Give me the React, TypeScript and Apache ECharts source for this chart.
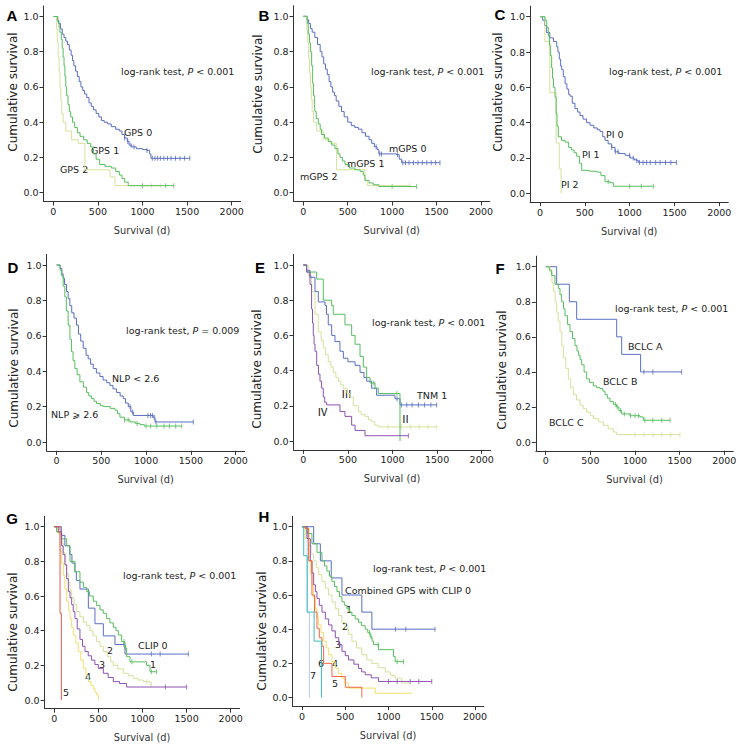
import React, { useEffect, useRef } from "react";
import * as echarts from "echarts";

// ---------- tick values ----------
const dayTicks = [0, 500, 1000, 1500, 2000];
const survTicks = [0, 0.2, 0.4, 0.6, 0.8, 1.0];

// ---------- Panel A: GPS ----------
const gps0 = [[0,1],[45,0.98],[60,0.96],[80,0.93],[100,0.9],[120,0.88],[140,0.86],[160,0.84],[180,0.81],[200,0.78],[215,0.75],[230,0.72],[250,0.69],[270,0.66],[290,0.63],[310,0.6],[330,0.58],[350,0.56],[375,0.54],[400,0.51],[425,0.49],[450,0.47],[480,0.45],[510,0.43],[540,0.41],[570,0.4],[610,0.39],[650,0.375],[700,0.36],[740,0.35],[770,0.33],[800,0.31],[830,0.29],[850,0.27],[880,0.26],[930,0.25],[1000,0.245],[1050,0.24],[1080,0.22],[1095,0.195],[1530,0.195]];
const gps0Cens = [800,835,870,905,1050,1110,1140,1170,1200,1240,1280,1320,1370,1420,1470,1530];
const gps1 = [[0,1],[50,0.97],[65,0.94],[75,0.91],[90,0.87],[100,0.82],[110,0.77],[120,0.72],[130,0.66],[140,0.6],[150,0.55],[165,0.5],[180,0.46],[195,0.43],[215,0.4],[240,0.37],[270,0.34],[300,0.32],[340,0.3],[380,0.28],[420,0.26],[450,0.22],[480,0.19],[520,0.16],[580,0.15],[650,0.14],[700,0.12],[740,0.1],[770,0.08],[800,0.06],[840,0.04],[1350,0.04]];
const gps1Cens = [1000,1260,1350];
const gps2 = [[0,1],[35,0.93],[45,0.85],[55,0.77],[65,0.68],[75,0.6],[85,0.52],[95,0.45],[110,0.4],[140,0.35],[205,0.3],[280,0.28],[355,0.13],[636,0.09],[692,0.04],[1200,0.04]];
const gps2Cens = [1100,1200];

// ---------- Panel B: mGPS ----------
const mgps0 = [[0,1],[40,0.98],[60,0.96],[80,0.93],[100,0.91],[130,0.88],[160,0.84],[190,0.8],[210,0.77],[230,0.73],[250,0.7],[270,0.67],[290,0.63],[310,0.6],[330,0.57],[350,0.55],[370,0.52],[400,0.49],[430,0.46],[460,0.43],[500,0.4],[540,0.38],[580,0.37],[620,0.36],[660,0.34],[700,0.32],[740,0.3],[770,0.28],[800,0.26],[830,0.245],[850,0.22],[1050,0.215],[1080,0.19],[1107,0.17],[1538,0.17]];
const mgps0Cens = [820,860,880,1060,1120,1150,1190,1240,1290,1340,1390,1440,1490,1538];
const mgps1 = [[0,1],[45,0.96],[56,0.9],[70,0.85],[80,0.8],[94,0.72],[105,0.62],[115,0.55],[125,0.5],[131,0.46],[145,0.42],[169,0.39],[190,0.36],[206,0.33],[240,0.31],[281,0.29],[320,0.27],[356,0.25],[390,0.22],[413,0.2],[440,0.18],[469,0.16],[520,0.14],[581,0.13],[640,0.12],[675,0.1],[694,0.07],[740,0.055],[788,0.045],[850,0.035],[1276,0.035]];
const mgps1Cens = [1000,1276];
const mgps2 = [[0,1],[40,0.92],[50,0.85],[60,0.76],[70,0.68],[80,0.6],[90,0.53],[100,0.46],[115,0.4],[150,0.35],[225,0.3],[300,0.28],[375,0.13],[694,0.07],[720,0.04],[1200,0.04]];
const mgps2Cens = [1200];

// ---------- Panel C: PI ----------
const pi0 = [[0,1],[30,0.98],[50,0.95],[74,0.91],[110,0.88],[150,0.86],[186,0.83],[200,0.8],[215,0.76],[230,0.72],[242,0.7],[260,0.66],[280,0.62],[300,0.59],[320,0.56],[335,0.55],[360,0.51],[390,0.48],[420,0.46],[446,0.44],[480,0.42],[520,0.4],[558,0.385],[600,0.37],[640,0.36],[669,0.35],[700,0.32],[725,0.3],[760,0.28],[799,0.26],[837,0.235],[880,0.225],[950,0.215],[1004,0.2],[1050,0.19],[1078,0.185],[1097,0.175],[1524,0.175]];
const pi0Cens = [800,840,870,1000,1040,1080,1110,1150,1190,1230,1290,1340,1400,1460,1524];
const pi1 = [[0,1],[56,0.98],[75,0.94],[93,0.89],[105,0.84],[115,0.78],[130,0.71],[140,0.65],[150,0.6],[167,0.545],[180,0.45],[190,0.38],[204,0.32],[240,0.3],[279,0.29],[320,0.26],[353,0.245],[380,0.23],[409,0.21],[440,0.17],[465,0.13],[550,0.125],[632,0.12],[680,0.1],[725,0.066],[780,0.06],[818,0.04],[1264,0.04]];
const pi1Cens = [760,1000,1130,1264];
const pi2 = [[0,1],[55,0.86],[110,0.57],[180,0.285],[215,0.14],[235,0]];

// ---------- Panel D: NLP ----------
const nlpLow = [[0,1],[40,0.98],[60,0.95],[74,0.925],[90,0.89],[112,0.85],[130,0.81],[149,0.77],[170,0.73],[195,0.7],[223,0.66],[245,0.61],[270,0.57],[298,0.53],[330,0.49],[354,0.47],[380,0.44],[410,0.415],[445,0.39],[484,0.37],[520,0.35],[560,0.335],[596,0.32],[630,0.3],[670,0.28],[710,0.26],[745,0.245],[770,0.22],[801,0.2],[830,0.17],[857,0.15],[1080,0.14],[1099,0.113],[1527,0.113]];
const nlpLowCens = [820,850,1020,1050,1070,1090,1110,1527];
const nlpHigh = [[0,1],[40,0.97],[56,0.94],[75,0.88],[93,0.82],[110,0.74],[130,0.66],[150,0.58],[168,0.51],[185,0.46],[205,0.415],[230,0.38],[261,0.34],[300,0.31],[335,0.28],[360,0.26],[391,0.245],[420,0.23],[447,0.217],[490,0.205],[522,0.2],[600,0.19],[652,0.18],[680,0.16],[708,0.14],[760,0.125],[820,0.113],[880,0.105],[931,0.098],[980,0.09],[1397,0.09]];
const nlpHighCens = [760,800,900,1000,1050,1120,1200,1260,1330,1397];

// ---------- Panel E: TNM ----------
const tnm1 = [[0,1],[37,0.97],[75,0.93],[131,0.85],[168,0.79],[243,0.77],[260,0.72],[280,0.66],[318,0.6],[355,0.565],[411,0.51],[449,0.47],[500,0.45],[580,0.43],[636,0.39],[680,0.36],[710,0.34],[766,0.3],[822,0.26],[1028,0.24],[1084,0.205],[1495,0.205]];
const tnm1Cens = [1050,1100,1160,1220,1290,1360,1430,1495];
const tnm2 = [[0,1],[37,0.96],[150,0.92],[224,0.8],[318,0.77],[336,0.72],[467,0.66],[542,0.6],[580,0.55],[636,0.48],[673,0.42],[710,0.36],[748,0.33],[804,0.3],[841,0.27],[1084,0]];
const tnm2Cens = [790,1050];
const tnm3 = [[0,1],[56,0.94],[93,0.85],[131,0.72],[168,0.62],[200,0.57],[224,0.53],[250,0.49],[280,0.45],[310,0.42],[336,0.39],[365,0.36],[393,0.34],[420,0.32],[449,0.3],[490,0.27],[523,0.25],[560,0.2],[617,0.167],[650,0.15],[692,0.14],[730,0.12],[766,0.11],[800,0.09],[841,0.08],[1495,0.08]];
const tnm3Cens = [950,1100,1200,1300,1400,1495];
const tnm4 = [[0,1],[37,0.96],[75,0.89],[93,0.75],[103,0.67],[112,0.6],[121,0.55],[131,0.51],[150,0.43],[170,0.38],[187,0.34],[205,0.3],[224,0.25],[240,0.22],[262,0.205],[411,0.167],[467,0.14],[542,0.09],[580,0.06],[692,0.03],[1178,0.03]];
const tnm4Cens = [1178];

// ---------- Panel F: BCLC ----------
const bclcA = [[0,1],[123,0.9],[265,0.8],[347,0.7],[795,0.6],[851,0.5],[1063,0.4],[1522,0.4]];
const bclcACens = [1100,1200,1522];
const bclcB = [[0,1],[40,0.98],[67,0.95],[104,0.9],[142,0.875],[160,0.84],[179,0.8],[200,0.76],[216,0.72],[245,0.67],[272,0.63],[300,0.59],[328,0.55],[350,0.52],[366,0.495],[385,0.47],[403,0.44],[430,0.4],[459,0.36],[490,0.34],[534,0.32],[570,0.31],[608,0.305],[640,0.29],[664,0.27],[690,0.25],[720,0.23],[760,0.215],[795,0.2],[820,0.18],[851,0.16],[944,0.15],[1056,0.143],[1093,0.124],[1392,0.124]];
const bclcBCens = [780,800,840,880,950,1000,1040,1110,1200,1300,1392];
const bclcC = [[0,1],[49,0.97],[70,0.91],[86,0.86],[105,0.8],[123,0.74],[140,0.69],[160,0.63],[180,0.55],[198,0.48],[225,0.42],[254,0.36],[280,0.31],[310,0.27],[345,0.24],[384,0.21],[420,0.19],[459,0.17],[500,0.15],[534,0.133],[590,0.115],[646,0.095],[700,0.075],[757,0.057],[795,0.042],[1504,0.042]];
const bclcCCens = [1000,1100,1200,1300,1400,1504];

// ---------- Panel G: CLIP ----------
const clip0 = [[0,1],[80,0.95],[120,0.89],[175,0.84],[200,0.79],[234,0.74],[250,0.69],[291,0.64],[386,0.53],[461,0.44],[556,0.37],[688,0.32],[801,0.265],[1520,0.265]];
const clip0Cens = [790,1100,1200,1520];
const clip1 = [[0,1],[26,0.97],[83,0.93],[140,0.89],[178,0.8],[234,0.74],[291,0.68],[330,0.65],[367,0.625],[400,0.6],[442,0.57],[480,0.545],[518,0.52],[555,0.5],[593,0.47],[630,0.445],[669,0.42],[700,0.4],[726,0.375],[764,0.337],[801,0.3],[820,0.25],[858,0.22],[1047,0.2],[1085,0.163],[1160,0.163]];
const clip1Cens = [790,810,880,1100,1160];
const clip2 = [[0,1],[45,0.96],[83,0.91],[100,0.85],[121,0.78],[140,0.73],[159,0.68],[178,0.63],[197,0.59],[225,0.55],[253,0.51],[290,0.48],[329,0.45],[365,0.43],[404,0.4],[440,0.37],[480,0.337],[520,0.31],[556,0.28],[600,0.25],[640,0.22],[669,0.2],[720,0.18],[782,0.154],[840,0.14],[896,0.125],[950,0.115],[1009,0.106],[1085,0.09],[1100,0.09]];
const clip2Cens = [1050,1100];
const clip3 = [[0,1],[45,0.97],[83,0.89],[100,0.84],[121,0.78],[140,0.7],[159,0.625],[178,0.59],[197,0.55],[215,0.51],[234,0.47],[260,0.41],[291,0.35],[320,0.31],[348,0.28],[385,0.255],[423,0.23],[460,0.205],[499,0.183],[556,0.154],[610,0.13],[669,0.106],[740,0.095],[820,0.075],[1500,0.075]];
const clip3Cens = [1260,1500];
const clip4 = [[0,1],[26,0.97],[64,0.86],[83,0.79],[102,0.72],[120,0.64],[140,0.57],[160,0.52],[178,0.47],[197,0.42],[215,0.375],[245,0.33],[272,0.28],[300,0.23],[329,0.183],[360,0.14],[386,0.106],[415,0.085],[442,0.067],[460,0.045],[480,0.03],[499,0]];
const clip5 = [[0,1],[65,0.5],[80,0]];

// ---------- Panel H: combined GPS with CLIP ----------
const comb0 = [[0,1],[135,0.9],[212,0.8],[338,0.7],[462,0.6],[692,0.5],[808,0.4],[1538,0.4]];
const comb0Cens = [1080,1200,1538];
const comb1 = [[0,1],[58,0.96],[115,0.9],[173,0.85],[231,0.8],[260,0.77],[288,0.74],[318,0.71],[346,0.68],[375,0.65],[404,0.62],[433,0.59],[462,0.56],[490,0.54],[519,0.52],[550,0.5],[577,0.48],[615,0.46],[654,0.44],[690,0.42],[731,0.4],[760,0.38],[788,0.355],[810,0.33],[827,0.31],[885,0.28],[1058,0.24],[1077,0.21],[1173,0.21]];
const comb1Cens = [780,800,880,1100,1173];
const comb2 = [[0,1],[38,0.99],[77,0.89],[105,0.84],[135,0.8],[165,0.76],[192,0.72],[230,0.68],[269,0.64],[308,0.6],[346,0.56],[385,0.52],[423,0.48],[460,0.44],[500,0.405],[540,0.37],[577,0.33],[630,0.29],[692,0.25],[750,0.22],[808,0.2],[880,0.175],[962,0.15],[1020,0.13],[1077,0.113],[1154,0.084],[1250,0.084]];
const comb3 = [[0,1],[58,0.93],[96,0.8],[115,0.73],[135,0.66],[155,0.62],[173,0.58],[200,0.54],[231,0.5],[270,0.46],[308,0.425],[346,0.39],[385,0.35],[425,0.31],[462,0.27],[500,0.245],[538,0.22],[600,0.195],[654,0.17],[690,0.15],[731,0.133],[800,0.115],[885,0.094],[1500,0.094]];
const comb3Cens = [1000,1100,1250,1350,1500];
const comb4 = [[0,1],[38,0.93],[77,0.8],[96,0.73],[115,0.66],[135,0.59],[154,0.52],[173,0.47],[192,0.425],[220,0.38],[250,0.33],[280,0.29],[308,0.25],[346,0.21],[385,0.17],[420,0.14],[462,0.113],[500,0.085],[538,0.055],[846,0.025],[1270,0.025]];
const comb5 = [[0,1],[38,0.99],[77,0.8],[115,0.6],[145,0.5],[173,0.405],[200,0.35],[231,0.3],[250,0.2],[346,0.123],[500,0.06],[692,0]];
const comb6 = [[0,1],[20,0.83],[60,0.5],[140,0.33],[225,0]];
const comb7 = [[0,1],[60,0.5],[85,0]];

// ---------- colours ----------
const BLUE = "#5a6ec2";
const GREEN = "#58be5e";
const PALE = "#d6e09c";
const PURPLE = "#8d52b2";
const YELLOW = "#f0de6e";
const RED = "#e6584f";
const ORANGE = "#f0683f";
const TEAL = "#3dbdc0";
const LIGHT = "#b4c9e6";

const FONT = '"DejaVu Sans", Verdana, sans-serif';
const CJK = '"Noto Sans CJK SC", "DejaVu Sans", sans-serif';

// panel geometry: pixel of day 0 / day 2000, pixel of survival 1.0 / 0.0
const PANELS = [
  { x0: 53.3, x2000: 231.7, y1: 16.5, y0: 192.7 },
  { x0: 303.3, x2000: 481, y1: 16.3, y0: 192.7 },
  { x0: 540, x2000: 719.3, y1: 16.7, y0: 193.3 },
  { x0: 56.5, x2000: 235.7, y1: 265, y0: 442 },
  { x0: 303.3, x2000: 481.7, y1: 265, y0: 441 },
  { x0: 545.7, x2000: 724.3, y1: 266.7, y0: 442 },
  { x0: 54.3, x2000: 230.7, y1: 526.7, y0: 700 },
  { x0: 302, x2000: 475, y1: 526.7, y0: 697.5 },
];
const X_MIN = -110, X_MAX = 2100, Y_MIN = -0.05, Y_MAX = 1.06;

const CURVES = [
  { p: 0, d: gps0, c: BLUE, cens: gps0Cens },
  { p: 0, d: gps2, c: PALE, cens: gps2Cens },
  { p: 0, d: gps1, c: GREEN, cens: gps1Cens },
  { p: 1, d: mgps0, c: BLUE, cens: mgps0Cens },
  { p: 1, d: mgps2, c: PALE, cens: mgps2Cens },
  { p: 1, d: mgps1, c: GREEN, cens: mgps1Cens },
  { p: 2, d: pi0, c: BLUE, cens: pi0Cens },
  { p: 2, d: pi2, c: PALE, cens: [] },
  { p: 2, d: pi1, c: GREEN, cens: pi1Cens },
  { p: 3, d: nlpLow, c: BLUE, cens: nlpLowCens },
  { p: 3, d: nlpHigh, c: GREEN, cens: nlpHighCens },
  { p: 4, d: tnm3, c: PALE, cens: tnm3Cens },
  { p: 4, d: tnm1, c: BLUE, cens: tnm1Cens },
  { p: 4, d: tnm2, c: GREEN, cens: tnm2Cens },
  { p: 4, d: tnm4, c: PURPLE, cens: tnm4Cens },
  { p: 5, d: bclcA, c: BLUE, cens: bclcACens },
  { p: 5, d: bclcC, c: PALE, cens: bclcCCens },
  { p: 5, d: bclcB, c: GREEN, cens: bclcBCens },
  { p: 6, d: clip2, c: PALE, cens: clip2Cens },
  { p: 6, d: clip4, c: YELLOW, cens: [] },
  { p: 6, d: clip0, c: BLUE, cens: clip0Cens },
  { p: 6, d: clip1, c: GREEN, cens: clip1Cens },
  { p: 6, d: clip3, c: PURPLE, cens: clip3Cens },
  { p: 6, d: clip5, c: RED, cens: [] },
  { p: 7, d: comb2, c: PALE, cens: [] },
  { p: 7, d: comb4, c: YELLOW, cens: [] },
  { p: 7, d: comb7, c: LIGHT, cens: [] },
  { p: 7, d: comb0, c: BLUE, cens: comb0Cens },
  { p: 7, d: comb1, c: GREEN, cens: comb1Cens },
  { p: 7, d: comb3, c: PURPLE, cens: comb3Cens },
  { p: 7, d: comb5, c: ORANGE, cens: [] },
  { p: 7, d: comb6, c: TEAL, cens: [] },
];

const LOGRANK = [
  [121, 71, "< 0.001"], [371, 71, "< 0.001"], [609, 71, "< 0.001"],
  [126, 330, "= 0.009"], [372, 322, "< 0.001"], [615, 308, "< 0.001"],
  [123, 575, "< 0.001"], [373, 568, "< 0.001"],
];
const LABELS = [
  ["GPS 0", 124, 132], ["GPS 1", 91, 150], ["GPS 2", 60, 169],
  ["mGPS 0", 389, 148], ["mGPS 1", 347, 163], ["mGPS 2", 300, 176],
  ["PI 0", 606, 134], ["PI 1", 582, 154], ["PI 2", 561, 184],
  ["NLP < 2.6", 112, 378], ["NLP \u2A7E 2.6", 51, 414],
  ["TNM 1", 417, 395],
  ["BCLC A", 628, 346], ["BCLC B", 603, 381], ["BCLC C", 549, 422],
  ["CLIP 0", 138, 645], ["1", 150, 664], ["2", 107, 650], ["3", 99, 664], ["4", 85, 676], ["5", 63, 692],
  ["Combined GPS with CLIP 0", 345, 590], ["1", 346, 609], ["2", 342, 626], ["3", 335, 644],
  ["4", 332, 663], ["5", 332, 683], ["6", 318, 663], ["7", 310, 675],
];
const ROMAN = [["\u2162", 341, 393], ["\u2161", 400, 418], ["\u2163", 317, 411]];
const YNAMES = [[13, 92], [258, 94], [498, 92], [14, 368], [257, 369], [502, 370], [13, 632], [262, 631]];
const LETTERS = [["A", 12, 15], ["B", 264, 15], ["C", 500, 14], ["D", 13, 267], ["E", 260, 267], ["F", 500, 268], ["G", 12, 518], ["H", 264, 516]];

function survAt(curve: number[][], t: number) {
  let v = curve[0][1];
  for (const [x, y] of curve) {
    if (x <= t) v = y;
    else break;
  }
  return v;
}

function textEl(t: string, x: number, y: number, extra: any = {}, rotation = 0) {
  return {
    type: "text", x, y, rotation, silent: true,
    style: Object.assign({
      text: t, align: "left", textAlign: "left", verticalAlign: "middle", textVerticalAlign: "middle",
      fill: "#222", fontFamily: FONT, fontSize: 9.5,
    }, extra),
  };
}

function buildOption() {
  const grid: any[] = [];
  const xAxis: any[] = [];
  const yAxis: any[] = [];
  PANELS.forEach((g, i) => {
    const pxd = (g.x2000 - g.x0) / 2000;
    const pyu = g.y0 - g.y1;
    grid.push({
      left: g.x0 + X_MIN * pxd,
      top: g.y1 - (Y_MAX - 1) * pyu,
      width: (X_MAX - X_MIN) * pxd,
      height: (Y_MAX - Y_MIN) * pyu,
      containLabel: false,
      outerBoundsMode: "none",
    });
    xAxis.push({
      type: "value", gridIndex: i, min: X_MIN, max: X_MAX,
      name: "Survival (d)", nameLocation: "middle", nameGap: 24,
      nameTextStyle: { fontFamily: FONT, fontSize: 9.8, color: "#333" },
      axisLine: { show: true, onZero: false, lineStyle: { color: "#333", width: 1 } },
      axisTick: { show: true, customValues: dayTicks, length: 4, inside: false, lineStyle: { color: "#333" } },
      axisLabel: { customValues: dayTicks, fontFamily: FONT, fontSize: 9.5, color: "#222", margin: 5, formatter: (v: number) => String(v) },
      splitLine: { show: false },
    });
    yAxis.push({
      type: "value", gridIndex: i, min: Y_MIN, max: Y_MAX,
      axisLine: { show: true, onZero: false, lineStyle: { color: "#333", width: 1 } },
      axisTick: { show: true, customValues: survTicks, length: 4, inside: false, lineStyle: { color: "#333" } },
      axisLabel: { customValues: survTicks, fontFamily: FONT, fontSize: 9.5, color: "#222", margin: 5, formatter: (v: number) => v.toFixed(1) },
      splitLine: { show: false },
    });
  });

  const series: any[] = [];
  CURVES.forEach((cv) => {
    series.push({
      type: "line", xAxisIndex: cv.p, yAxisIndex: cv.p, data: cv.d, step: "end",
      showSymbol: false, symbol: "none", silent: true,
      lineStyle: { color: cv.c, width: 1 }, itemStyle: { color: cv.c },
    });
    if (cv.cens.length) {
      series.push({
        type: "scatter", xAxisIndex: cv.p, yAxisIndex: cv.p, silent: true,
        data: cv.cens.map((t) => [t, survAt(cv.d, t)]),
        symbol: "rect", symbolSize: [1, 5], itemStyle: { color: cv.c },
      });
    }
  });

  const graphic: any[] = [];
  LOGRANK.forEach(([x, y, tail]) => {
    graphic.push(textEl(`{n|log-rank test, }{i|P}{n| ${tail}}`, x as number, y as number, {
      rich: {
        n: { fontFamily: FONT, fontSize: 9.5, fill: "#222", color: "#222" },
        i: { fontFamily: FONT, fontSize: 9.5, fontStyle: "italic", fill: "#222", color: "#222" },
      },
    }));
  });
  LABELS.forEach(([t, x, y]) => graphic.push(textEl(t as string, x as number, y as number)));
  ROMAN.forEach(([t, x, y]) => graphic.push(textEl(t as string, x as number, y as number, { fontFamily: CJK, fontSize: 11 })));
  YNAMES.forEach(([x, y]) => {
    graphic.push(textEl("Cumulative survival", x, y, { align: "center", textAlign: "center", fontSize: 12 }, Math.PI / 2));
  });
  LETTERS.forEach(([t, x, y]) => {
    graphic.push(textEl(t as string, x as number, y as number, {
      align: "center", textAlign: "center", fill: "#000",
      fontFamily: '"Liberation Sans", Arial, sans-serif', fontSize: 15, fontWeight: "bold",
    }));
  });

  return {
    animation: false,
    backgroundColor: "#ffffff",
    grid, xAxis, yAxis, series, graphic,
  };
}

export default function App() {
  const ref = useRef<HTMLDivElement>(null);
  useEffect(() => {
    document.body.style.margin = "0";
    if (!ref.current) return;
    const chart = echarts.init(ref.current, undefined, { renderer: "svg" });
    chart.setOption(buildOption() as any);
    return () => chart.dispose();
  }, []);
  return <div ref={ref} style={{ width: 741, height: 744 }} />;
}
